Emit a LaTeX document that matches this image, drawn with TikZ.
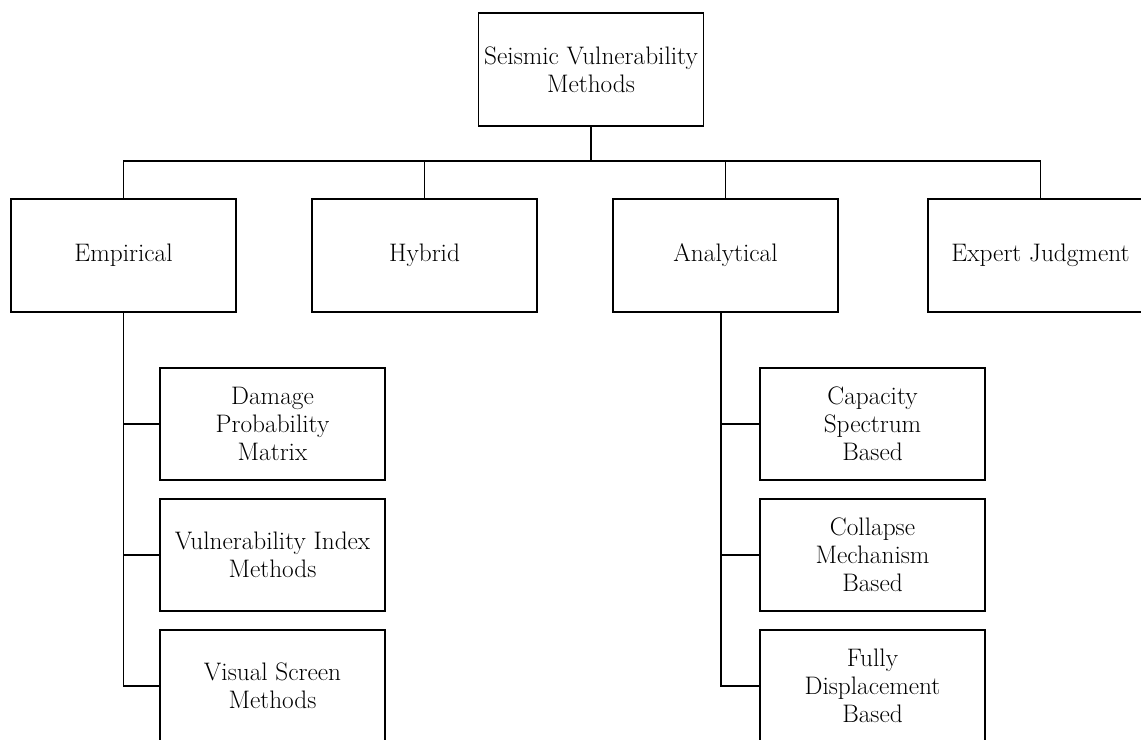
\documentclass[tikz,border=0pt]{standalone}
\usepackage{xcolor}
\usepackage{amsmath}
\usepackage{tikz}
\usetikzlibrary{positioning}

\tikzset{
  svbox/.style={draw, line width=1.3pt, align=center, inner sep=0pt,
    minimum width=5.625cm, minimum height=2.825cm},
  svsub/.style={svbox, minimum height=2.8cm},
  svline/.style={line width=1.3pt}
}

\begin{document}
\begin{tikzpicture}[x=0.025cm, y=-0.025cm]\fontsize{18}{20}\selectfont
\useasboundingbox (0,0) rectangle (1141,740);
\clip (0,0) rectangle (1141,740);
\node[svbox] (svm) at (591,69.5) {Seismic Vulnerability\\Methods};
\node[svbox] (emp) at (123.5,255.5) {Empirical};
\node[svbox] (hyb) at (424.5,255.5) {Hybrid};
\node[svbox] (ana) at (725.5,255.5) {Analytical};
\node[svbox] (exj) at (1040.5,255.5) {Expert Judgment};
\node[svsub] (dpm) at (272.5,424) {Damage\\Probability\\Matrix};
\node[svsub] (vim) at (272.5,555) {Vulnerability Index\\Methods};
\node[svsub] (vsm) at (272.5,686) {Visual Screen\\Methods};
\node[svsub] (csb) at (872.5,424) {Capacity\\Spectrum\\Based};
\node[svsub] (cmb) at (872.5,555) {Collapse\\Mechanism\\Based};
\node[svsub] (fdb) at (872.5,686) {Fully\\Displacement\\Based};
\coordinate (bus) at (591,161);
\draw[svline] (svm.south) -- (bus);
\draw[svline] (emp.north) -- (emp.north |- bus) -- (exj.north |- bus) -- (exj.north);
\draw[svline] (hyb.north) -- (hyb.north |- bus);
\draw[svline] (ana.north) -- (ana.north |- bus);
\draw[svline] (emp.south) |- (vsm.west);
\draw[svline] (emp.south |- dpm.west) -- (dpm.west);
\draw[svline] (emp.south |- vim.west) -- (vim.west);
\draw[svline] ([xshift=-3]ana.south) |- (fdb.west);
\draw[svline] ([xshift=-3]ana.south |- csb.west) -- (csb.west);
\draw[svline] ([xshift=-3]ana.south |- cmb.west) -- (cmb.west);
\end{tikzpicture}
\end{document}
